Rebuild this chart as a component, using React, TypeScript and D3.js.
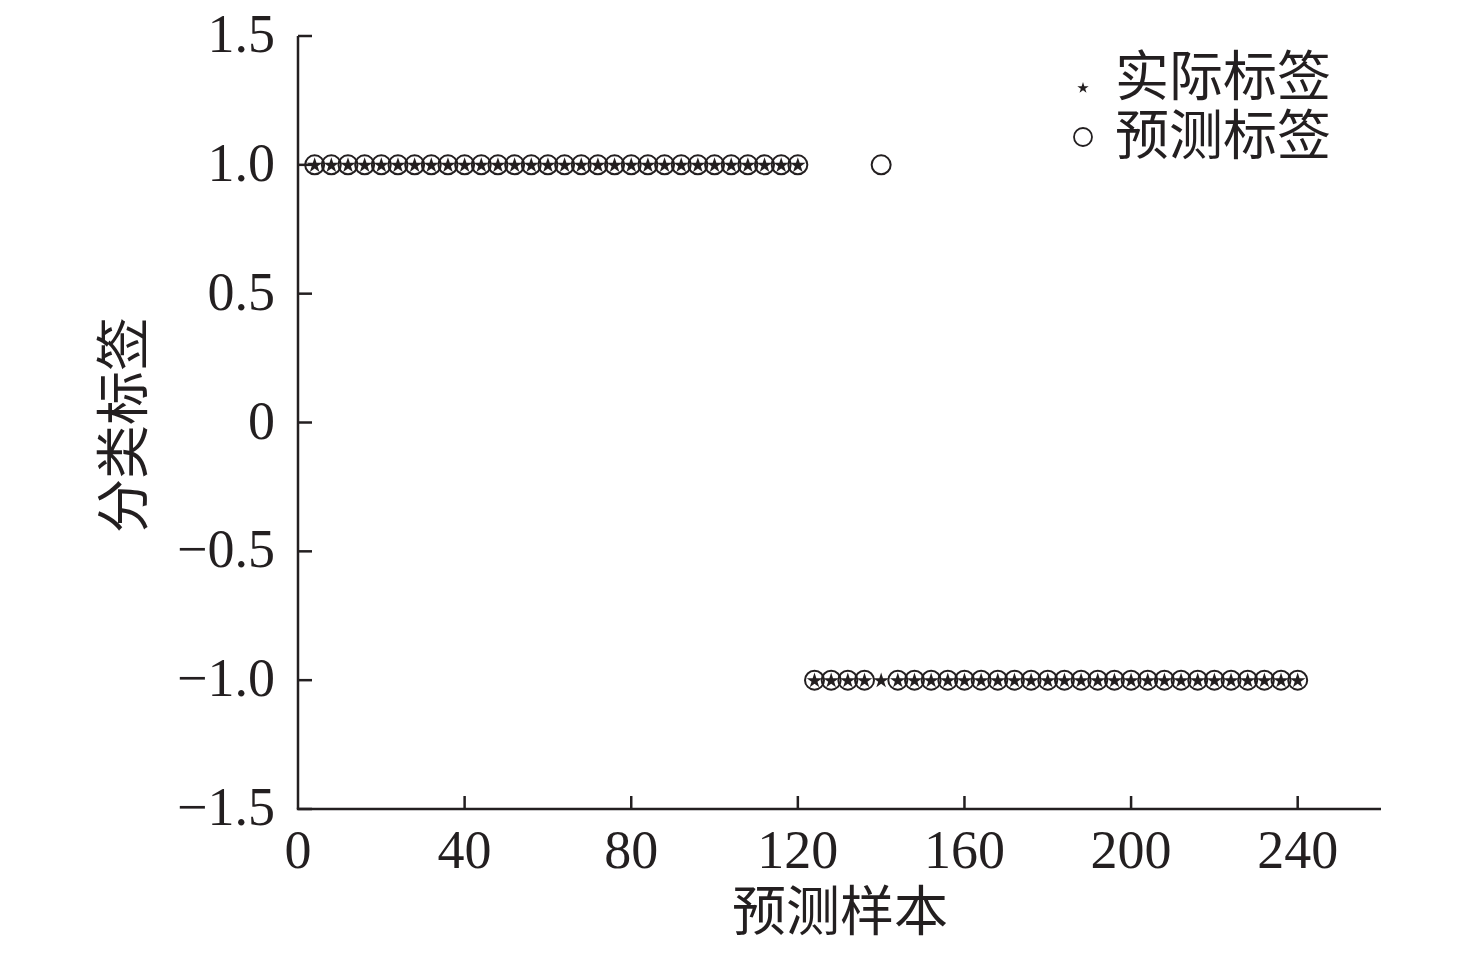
import React from "react";
import * as d3 from "d3";

const samples = [4, 8, 12, 16, 20, 24, 28, 32, 36, 40, 44, 48, 52, 56, 60, 64, 68, 72, 76, 80, 84, 88, 92, 96, 100, 104, 108, 112, 116, 120, 124, 128, 132, 136, 140, 144, 148, 152, 156, 160, 164, 168, 172, 176, 180, 184, 188, 192, 196, 200, 204, 208, 212, 216, 220, 224, 228, 232, 236, 240];
const actual = [1, 1, 1, 1, 1, 1, 1, 1, 1, 1, 1, 1, 1, 1, 1, 1, 1, 1, 1, 1, 1, 1, 1, 1, 1, 1, 1, 1, 1, 1, -1, -1, -1, -1, -1, -1, -1, -1, -1, -1, -1, -1, -1, -1, -1, -1, -1, -1, -1, -1, -1, -1, -1, -1, -1, -1, -1, -1, -1, -1];
const predicted = [1, 1, 1, 1, 1, 1, 1, 1, 1, 1, 1, 1, 1, 1, 1, 1, 1, 1, 1, 1, 1, 1, 1, 1, 1, 1, 1, 1, 1, 1, -1, -1, -1, -1, 1, -1, -1, -1, -1, -1, -1, -1, -1, -1, -1, -1, -1, -1, -1, -1, -1, -1, -1, -1, -1, -1, -1, -1, -1, -1];
const xTicks = [0, 40, 80, 120, 160, 200, 240];
const yTicks = [1.5, 1.0, 0.5, 0, -0.5, -1.0, -1.5];
const xLabel = "预测样本";
const yLabel = "分类标签";
const legendLabels = ["实际标签", "预测标签"];

const W = 1476;
const H = 953;
const ink = "#231f20";
const numFont = "'Liberation Serif', 'Times New Roman', serif";
const cjkFont = "'Noto Sans CJK SC', sans-serif";

export default function App() {
  const x = d3.scaleLinear().domain([0, 260]).range([298, 1381]);
  const y = d3.scaleLinear().domain([-1.5, 1.5]).range([809, 36]);
  const star = d3.symbol().type(d3.symbolStar).size(75)() as string;
  const starSmall = d3.symbol().type(d3.symbolStar).size(40)() as string;
  const fmt = (d: number) => (d === 0 ? "0" : d.toFixed(1).replace("-", "\u2212"));

  return (
    <svg
      width={W}
      height={H}
      style={{ position: "absolute", left: 0, top: 0, background: "#fff" }}
    >
      <rect width={W} height={H} fill="#fff" />
      {/* axes */}
      <line x1={x(0)} x2={x(0)} y1={y(1.5)} y2={y(-1.5)} stroke={ink} strokeWidth={2.5} />
      <line x1={x(0) - 1.2} x2={x(260)} y1={y(-1.5)} y2={y(-1.5)} stroke={ink} strokeWidth={2.5} />
      {yTicks.map((t) => (
        <g key={"y" + t}>
          <line x1={x(0)} x2={x(0) + 14} y1={y(t)} y2={y(t)} stroke={ink} strokeWidth={2.5} />
          <text
            x={275}
            y={y(t) + 16}
            textAnchor="end"
            fontFamily={numFont}
            fontSize={54}
            fill={ink}
          >
            {fmt(t)}
          </text>
        </g>
      ))}
      {xTicks.map((t) => (
        <g key={"x" + t}>
          {t !== 0 && (
            <line x1={x(t)} x2={x(t)} y1={y(-1.5)} y2={y(-1.5) - 13} stroke={ink} strokeWidth={2.5} />
          )}
          <text
            x={x(t)}
            y={868}
            textAnchor="middle"
            fontFamily={numFont}
            fontSize={54}
            fill={ink}
          >
            {t}
          </text>
        </g>
      ))}
      <text
        x={840}
        y={931}
        textAnchor="middle"
        fontFamily={cjkFont}
        fontSize={54}
        fill={ink}
      >
        {xLabel}
      </text>
      <text
        transform={`translate(${143},${425}) rotate(-90)`}
        textAnchor="middle"
        fontFamily={cjkFont}
        fontSize={54}
        fill={ink}
      >
        {yLabel}
      </text>
      {/* predicted circles */}
      {samples.map((s, i) => (
        <circle
          key={"p" + i}
          cx={x(s)}
          cy={y(predicted[i])}
          r={9.5}
          fill="none"
          stroke={ink}
          strokeWidth={2}
        />
      ))}
      {/* actual stars */}
      {samples.map((s, i) => (
        <path
          key={"a" + i}
          d={star}
          transform={`translate(${x(s)},${y(actual[i]) + 0.5})`}
          fill={ink}
        />
      ))}
      {/* legend */}
      <path d={starSmall} transform={`translate(1083,88)`} fill={ink} />
      <text x={1115} y={96} fontFamily={cjkFont} fontSize={54} fill={ink}>
        {legendLabels[0]}
      </text>
      <circle cx={1083} cy={137} r={9} fill="none" stroke={ink} strokeWidth={1.8} />
      <text x={1115} y={155} fontFamily={cjkFont} fontSize={54} fill={ink}>
        {legendLabels[1]}
      </text>
    </svg>
  );
}
